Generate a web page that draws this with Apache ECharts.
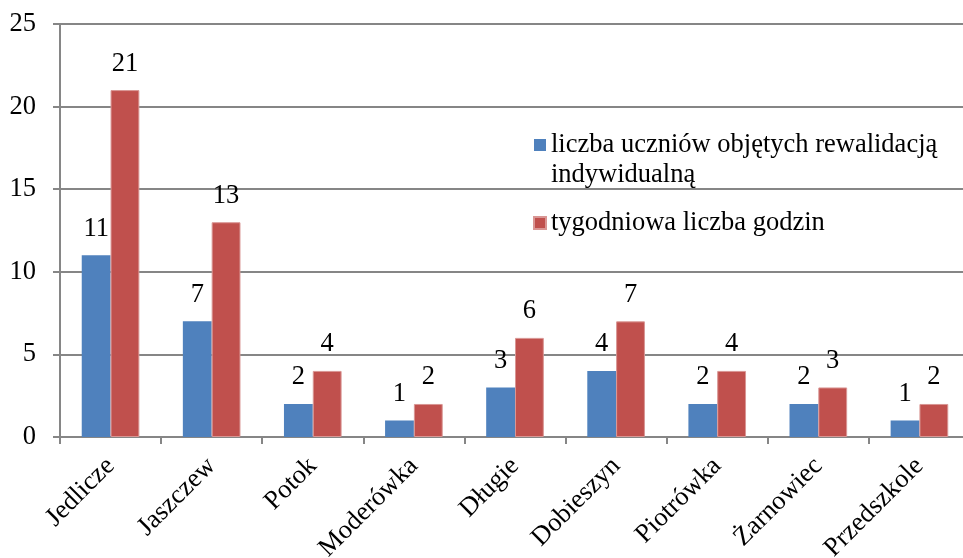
<!DOCTYPE html>
<html><head><meta charset="utf-8">
<script src="https://cdn.jsdelivr.net/npm/echarts@6/dist/echarts.min.js"></script>
<style>html,body{margin:0;padding:0;background:#fff}#c{width:963px;height:558px}</style>
</head><body><div id="c"></div>
<script>
const categories = ['Jedlicze','Jaszczew','Potok','Moderówka','Długie','Dobieszyn','Piotrówka','Żarnowiec','Przedszkole'];
const seriesNames = ['liczba uczniów objętych rewalidacją indywidualną','tygodniowa liczba godzin'];
const students = [11,7,2,1,3,4,2,2,1];
const hours = [21,13,4,2,6,7,4,3,2];
const yTicks = {min:0,max:25,interval:5};

const font = '"Liberation Serif", "Times New Roman", serif';
const fs = 26.5;
const chart = echarts.init(document.getElementById('c'));
chart.setOption({
  animation:false,
  textStyle:{fontFamily:font},
  grid:{left:60,right:-7,top:24,bottom:121,outerBoundsMode:'none',containLabel:false},
  legend:{
    orient:'vertical', left:533, top:100, padding:0, itemWidth:12, itemHeight:12, itemGap:18,
    icon:'rect',
    textStyle:{fontFamily:font,fontSize:fs,color:'#000',lineHeight:30},
    data:[seriesNames[0], seriesNames[1]],
    formatter:function(n){return n===seriesNames[0]?'\u00a0\nliczba uczniów objętych rewalidacją\nindywidualną':n;}
  },
  xAxis:{type:'category',data:categories,
    axisLine:{lineStyle:{color:'#868686',width:2}},
    axisTick:{show:true,length:7,lineStyle:{color:'#868686',width:2}},
    axisLabel:{rotate:45,fontSize:fs,color:'#000',fontFamily:font,margin:25,interval:0}},
  yAxis:{type:'value',min:yTicks.min,max:yTicks.max,interval:yTicks.interval,
    axisLine:{show:true,lineStyle:{color:'#868686',width:2}},
    axisTick:{show:true,length:7,lineStyle:{color:'#868686',width:2}},
    splitLine:{lineStyle:{color:'#868686',width:2}},
    axisLabel:{fontSize:fs,color:'#000',fontFamily:font,margin:24}},
  series:[
    {name:seriesNames[0],type:'bar',data:students,barGap:'0%',barCategoryGap:'43%',
     itemStyle:{color:'#4F81BD'},
     label:{show:true,position:'top',distance:13,fontSize:fs,color:'#000',fontFamily:font}},
    {name:seriesNames[1],type:'bar',data:hours,
     itemStyle:{color:'#C0504D',borderColor:'#D99694',borderWidth:1},
     label:{show:true,position:'top',distance:13,fontSize:fs,color:'#000',fontFamily:font}}
  ]
});
</script></body></html>
